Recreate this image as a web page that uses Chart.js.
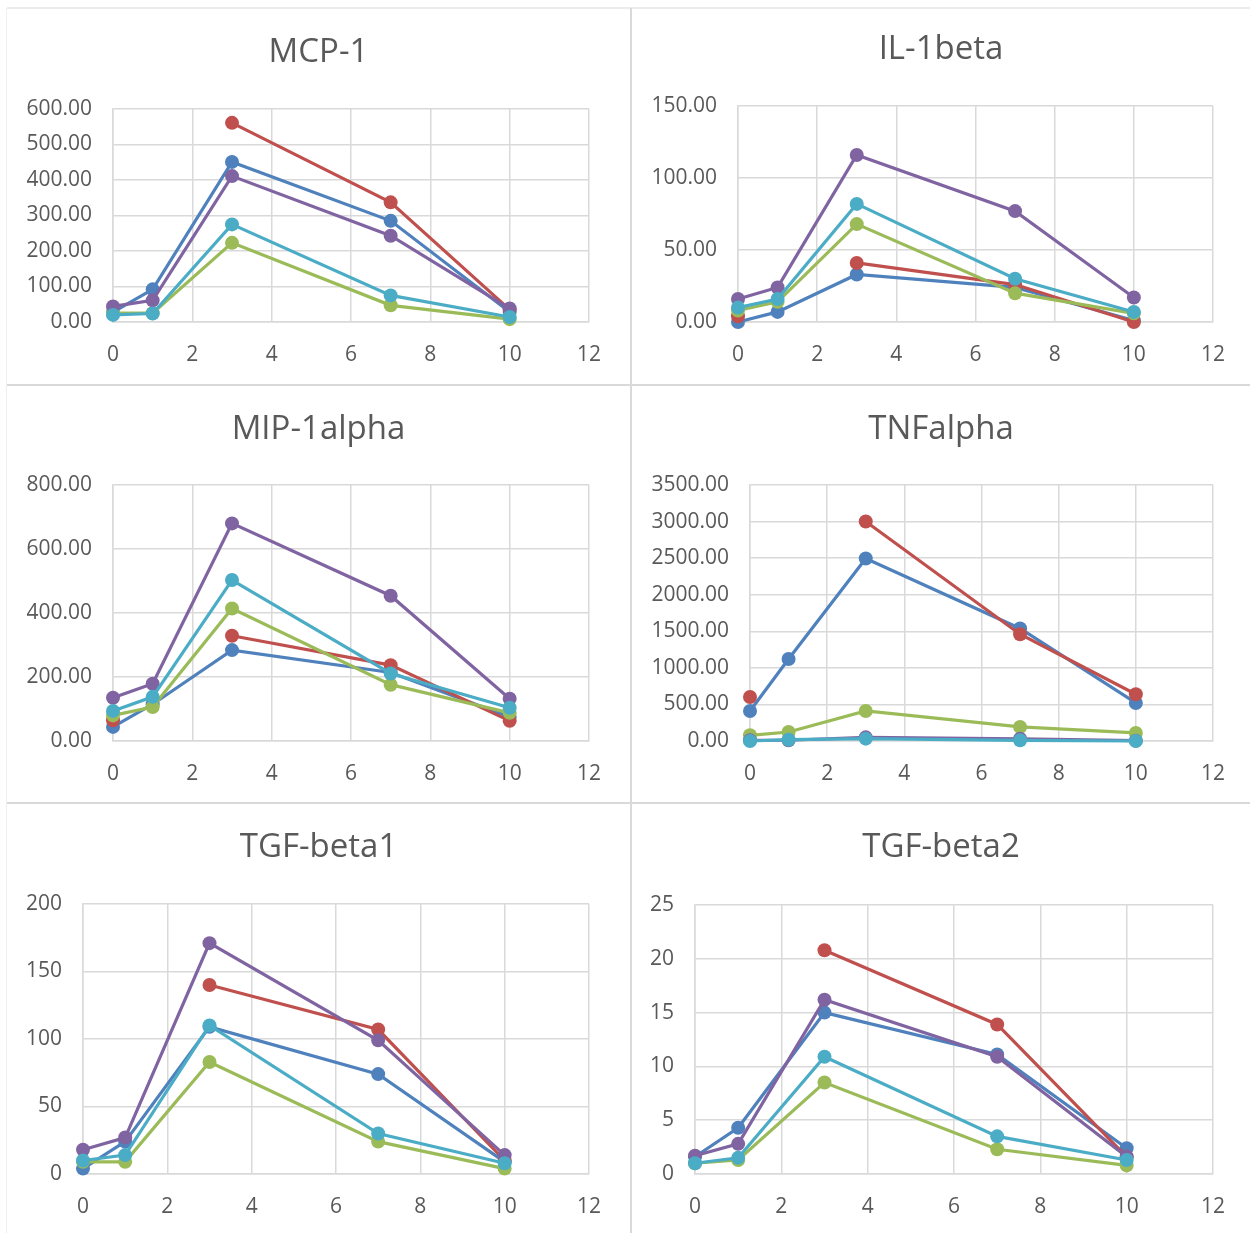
<!DOCTYPE html>
<html>
<head>
<meta charset="utf-8">
<script src="https://cdn.jsdelivr.net/npm/chart.js@4"></script>
<style>
  body { margin: 0; background: #fff; width: 1250px; height: 1233px; position: relative; overflow: hidden; }
  .cell { position: absolute; }
  .line { position: absolute; background: #d9d9d9; }
</style>
</head>
<body>
<div class="line" style="left:7px;top:7px;width:1243px;height:2px;background:#ececec"></div>
<div class="line" style="left:6px;top:8px;width:1px;height:1225px;background:#f0f0f0"></div>
<div class="line" style="left:630px;top:8px;width:2px;height:1225px"></div>
<div class="line" style="left:7px;top:384px;width:1243px;height:2px"></div>
<div class="line" style="left:7px;top:802px;width:1243px;height:2px"></div>

<div class="cell" style="left:7px;top:9px;width:623px;height:375px"><canvas id="c-mcp1"></canvas></div>
<div class="cell" style="left:632px;top:9px;width:618px;height:375px"><canvas id="c-il1b"></canvas></div>
<div class="cell" style="left:7px;top:386px;width:623px;height:416px"><canvas id="c-mip1a"></canvas></div>
<div class="cell" style="left:632px;top:386px;width:618px;height:416px"><canvas id="c-tnfa"></canvas></div>
<div class="cell" style="left:7px;top:804px;width:623px;height:429px"><canvas id="c-tgfb1"></canvas></div>
<div class="cell" style="left:632px;top:804px;width:618px;height:429px"><canvas id="c-tgfb2"></canvas></div>

<script>
// time points (x values), shared by every panel
const DAYS = [0, 1, 3, 7, 10];
const SERIES_COLORS = ["#4F81BD", "#C0504D", "#9BBB59", "#8064A2", "#4BACC6"];

// values per panel, one row per series: blue, red, green, purple, cyan
const MCP1 = [
  [28, 92, 451, 285, 28],
  [null, null, 561, 337, 35],
  [25, 25, 223, 47, 8],
  [44, 61, 411, 243, 38],
  [20, 24, 275, 75, 14],
];
const IL1BETA = [
  [0, 7, 33, 24, 1],
  [4, null, 41, 26, 0],
  [8, 14, 68, 20, 6],
  [16, 24, 116, 77, 17],
  [10, 16, 82, 30, 7],
];
const MIP1ALPHA = [
  [44, 115, 284, 214, 75],
  [65, null, 329, 237, 63],
  [80, 106, 414, 176, 88],
  [135, 179, 680, 454, 132],
  [94, 138, 503, 211, 104],
];
const TNFALPHA = [
  [411, 1122, 2495, 1538, 520],
  [602, null, 3000, 1460, 639],
  [78, 123, 411, 192, 110],
  [10, 10, 50, 30, 5],
  [0, 18, 32, 9, 0],
];
const TGFBETA1 = [
  [4, 24, 109, 74, 9],
  [null, null, 140, 107, 10],
  [9, 9, 83, 24, 4],
  [18, 27, 171, 99, 14],
  [10, 14, 110, 30, 8],
];
const TGFBETA2 = [
  [1.6, 4.3, 15.0, 11.1, 2.4],
  [null, null, 20.8, 13.9, 1.6],
  [1.0, 1.3, 8.5, 2.3, 0.8],
  [1.7, 2.8, 16.2, 10.9, 1.6],
  [1.0, 1.5, 10.9, 3.5, 1.3],
];

// y axis ranges: [max, step, decimals]
const Y_MCP1 = [600, 100, 2];
const Y_IL1BETA = [150, 50, 2];
const Y_MIP1ALPHA = [800, 200, 2];
const Y_TNFALPHA = [3500, 500, 2];
const Y_TGFBETA1 = [200, 50, 0];
const Y_TGFBETA2 = [25, 5, 0];

const GRID = "#d9d9d9";
const TEXT = "#595959";
const FONT = "'Open Sans', 'Liberation Sans', sans-serif";

function drawPanel(id, title, rows, yAxis, box) {
  const [yMax, yStep, decimals] = yAxis;
  const titleSize = 33, titleLH = titleSize * 1.2;
  const padTop = box.titleY - titleLH / 2;
  const datasets = rows.map((vals, i) => ({
    label: "Series " + (i + 1),
    data: DAYS.map((d, j) => ({ x: d, y: vals[j] })),
    borderColor: SERIES_COLORS[i],
    backgroundColor: SERIES_COLORS[i],
    pointBackgroundColor: SERIES_COLORS[i],
    pointBorderColor: SERIES_COLORS[i],
    borderWidth: 3.2,
    pointRadius: 7,
    pointBorderWidth: 0,
    tension: 0,
    clip: false,
    order: rows.length - i,
  }));

  new Chart(document.getElementById(id).getContext("2d"), {
    type: "line",
    data: { datasets },
    options: {
      responsive: true, maintainAspectRatio: false, animation: false,
      layout: { padding: 0 },
      plugins: {
        legend: { display: false },
        tooltip: { enabled: false },
        title: {
          display: true, text: title, color: TEXT,
          font: { family: FONT, size: titleSize, weight: "normal" },
          padding: { top: padTop, bottom: box.top - padTop - titleLH },
        },
      },
      scales: {
        x: {
          type: "linear", min: 0, max: 12,
          ticks: { stepSize: 2, color: TEXT, padding: 20, font: { family: FONT, size: 21 } },
          grid: { color: GRID, lineWidth: 1.5, drawTicks: false },
          border: { color: GRID, width: 1.5 },
          afterFit: (s) => { s.height = box.bottom; },
        },
        y: {
          min: 0, max: yMax,
          ticks: { stepSize: yStep, color: TEXT, padding: 21, font: { family: FONT, size: 21 },
                   callback: (v) => v.toFixed(decimals) },
          grid: { color: GRID, lineWidth: 1.5, drawTicks: false },
          border: { color: GRID, width: 1.5 },
          afterFit: (s) => { s.width = box.left; },
        },
        // empty right-hand axis only reserves the blank margin, so the title stays centred
        yRight: {
          position: "right", min: 0, max: yMax,
          ticks: { display: false }, grid: { display: false }, border: { display: false },
          afterFit: (s) => { s.width = box.right; },
        },
      },
    },
  });
}

drawPanel("c-mcp1", "MCP-1", MCP1, Y_MCP1, { titleY: 44, top: 100, left: 106, right: 41, bottom: 62 });
drawPanel("c-il1b", "IL-1beta", IL1BETA, Y_IL1BETA, { titleY: 41, top: 97, left: 106, right: 37, bottom: 62 });
drawPanel("c-mip1a", "MIP-1alpha", MIP1ALPHA, Y_MIP1ALPHA, { titleY: 44, top: 99, left: 106, right: 41, bottom: 61 });
drawPanel("c-tnfa", "TNFalpha", TNFALPHA, Y_TNFALPHA, { titleY: 44, top: 99, left: 118, right: 37, bottom: 61 });
drawPanel("c-tgfb1", "TGF-beta1", TGFBETA1, Y_TGFBETA1, { titleY: 44, top: 100, left: 76, right: 41, bottom: 59 });
drawPanel("c-tgfb2", "TGF-beta2", TGFBETA2, Y_TGFBETA2, { titleY: 44, top: 101, left: 63, right: 37, bottom: 59 });
</script>
</body>
</html>
